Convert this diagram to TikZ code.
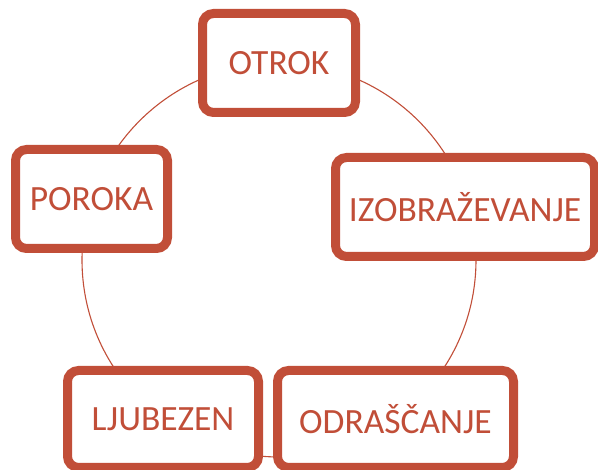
\documentclass[tikz,border=0pt]{standalone}
\usepackage{fontspec}
\setmainfont{Carlito}
\definecolor{rust}{RGB}{193,78,56}
\begin{document}
\begin{tikzpicture}[x=1pt,y=1pt,
  stage/.style={draw=rust, line width=9pt, rounded corners=11pt, fill=white,
    text=rust, inner sep=0pt, font=\fontsize{35.5}{40}\selectfont},
  ring/.style={draw=rust, line width=1.1pt}]
\useasboundingbox (0,0) rectangle (598,470);
\node[ring, circle, minimum size=394pt, inner sep=0pt] (c) at (279,210) {};
\node[stage, minimum width=153pt, minimum height=99pt] (otrok) at (279,407) {OTROK};
\node[stage, minimum width=259pt, minimum height=99pt] (izo) at (465,263) {IZOBRAŽEVANJE};
\node[stage, minimum width=236pt, minimum height=97pt] (odr) at (395.5,51) {ODRAŠČANJE};
\node[stage, minimum width=191pt, minimum height=97pt] (lju) at (163,51) {LJUBEZEN};
\node[stage, minimum width=152pt, minimum height=99pt] (por) at (91.5,271) {POROKA};
\end{tikzpicture}
\end{document}
